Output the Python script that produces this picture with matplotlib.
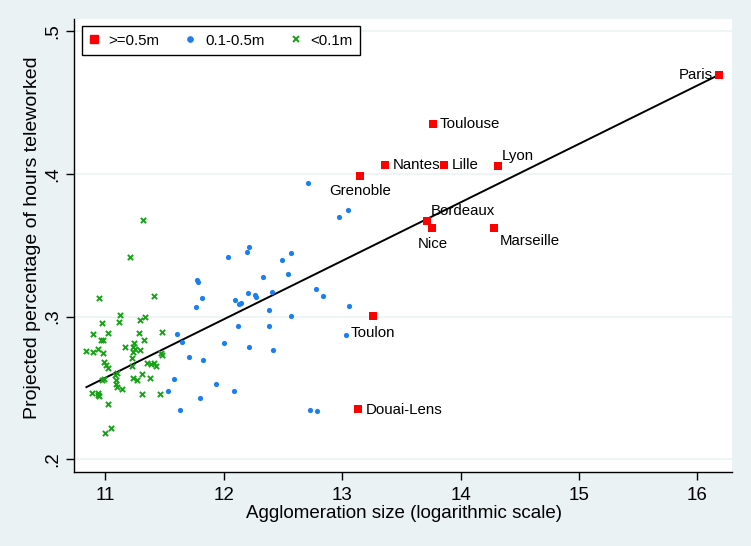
import numpy as np
import matplotlib
matplotlib.use("Agg")
import matplotlib.pyplot as plt
from matplotlib.lines import Line2D

plt.rcParams['font.family'] = ['Liberation Sans', 'DejaVu Sans']

# ---- data: large agglomerations (>=0.5m) ----
big_names = ["Paris", "Toulouse", "Nantes", "Lille", "Lyon", "Grenoble",
             "Bordeaux", "Nice", "Marseille", "Toulon", "Douai-Lens"]
big_x = [16.185, 13.767, 13.364, 13.862, 14.313, 13.150,
         13.716, 13.761, 14.280, 13.258, 13.136]
big_y = [0.4694, 0.4349, 0.4059, 0.4059, 0.4054, 0.3987,
         0.3667, 0.3620, 0.3622, 0.3006, 0.2352]

# ---- data: 0.1-0.5m ----
mid_x = [12.714, 13.046, 12.973, 12.213, 12.198, 12.035, 12.565, 12.494,
         11.776, 11.785, 12.331, 12.540, 11.818, 12.097, 12.143, 12.131,
         12.204, 12.261, 12.274, 12.405, 12.776, 12.835, 13.057, 11.768,
         12.382, 12.565, 12.122, 12.379, 11.605, 11.649, 12.004, 12.215,
         12.418, 13.032, 11.704, 11.824, 11.582, 11.937, 11.526, 12.089,
         11.802, 11.633, 12.728, 12.785]
mid_y = [0.3933, 0.3746, 0.3699, 0.3489, 0.3452, 0.3417, 0.3443, 0.3394,
         0.3256, 0.3242, 0.3279, 0.3298, 0.3130, 0.3116, 0.3097, 0.3086,
         0.3167, 0.3153, 0.3135, 0.3172, 0.3193, 0.3146, 0.3076, 0.3069,
         0.3044, 0.3004, 0.2936, 0.2934, 0.2880, 0.2820, 0.2817, 0.2785,
         0.2768, 0.2869, 0.2715, 0.2698, 0.2560, 0.2530, 0.2476, 0.2481,
         0.2427, 0.2345, 0.2347, 0.2338]

# ---- data: <0.1m ----
small_x = [11.317, 11.205, 10.948, 11.410, 11.123, 11.117, 10.974, 11.295,
           11.337, 10.898, 11.019, 11.281, 11.476, 10.960, 10.977, 11.329,
           11.239, 11.168, 11.231, 11.250, 11.292, 10.839, 10.898, 10.940,
           10.982, 11.231, 11.467, 11.478, 11.222, 10.988, 11.005, 11.024,
           11.349, 11.383, 11.410, 11.427, 11.222, 11.095, 11.079, 11.236,
           11.269, 11.312, 11.379, 10.991, 10.971, 11.090, 11.087, 11.095,
           11.140, 10.887, 10.940, 10.948, 10.935, 11.309, 11.461, 11.019,
           11.045, 10.999]
small_y = [0.3674, 0.3419, 0.3132, 0.3144, 0.3009, 0.2960, 0.2955, 0.2974,
           0.2999, 0.2880, 0.2887, 0.2887, 0.2890, 0.2836, 0.2836, 0.2836,
           0.2813, 0.2789, 0.2789, 0.2775, 0.2766, 0.2761, 0.2752, 0.2771,
           0.2743, 0.2754, 0.2747, 0.2728, 0.2707, 0.2682, 0.2658, 0.2637,
           0.2672, 0.2668, 0.2675, 0.2651, 0.2654, 0.2607, 0.2591, 0.2567,
           0.2556, 0.2598, 0.2567, 0.2560, 0.2556, 0.2556, 0.2528, 0.2509,
           0.2495, 0.2467, 0.2462, 0.2443, 0.2450, 0.2460, 0.2460, 0.2385,
           0.2217, 0.2184]

# fitted line parameters (weighted fit)
fit_slope = 0.04094
fit_intercept = -0.1932

legend_labels = [">=0.5m", "0.1-0.5m", "<0.1m"]
x_ticks = [11, 12, 13, 14, 15, 16]
y_ticks = [0.2, 0.3, 0.4, 0.5]
y_tick_labels = [".2", ".3", ".4", ".5"]

# label offsets in pixels (dx, dy, ha, va) – Stata clock positions
label_pos = {
    "Paris": (-6, 0, "right", "center"),
    "Toulouse": (7, 0, "left", "center"),
    "Nantes": (7, 0, "left", "center"),
    "Lille": (7, 0, "left", "center"),
    "Lyon": (4, 10, "left", "center"),
    "Grenoble": (0, -15, "center", "center"),
    "Bordeaux": (4, 10, "left", "center"),
    "Nice": (0, -16, "center", "center"),
    "Marseille": (6, -13, "left", "center"),
    "Toulon": (0, -17, "center", "center"),
    "Douai-Lens": (7, -1, "left", "center"),
}

BG = "#EAF2F3"
RED = "#FF0000"
BLUE = "#1A7FEF"
GREEN = "#16A316"

fig = plt.figure(figsize=(7.51, 5.46), dpi=100, facecolor=BG)
ax = fig.add_axes([74 / 751, 1 - 471.7 / 546, 657.7 / 751, 452.7 / 546])
ax.set_facecolor("white")

# regression line over the data range
all_x = np.array(big_x + mid_x + small_x)
xs = np.array([all_x.min(), all_x.max()])
ax.plot(xs, fit_intercept + fit_slope * xs, color="black", lw=1.4, zorder=2)

ax.scatter(small_x, small_y, marker="x", s=14, color=GREEN, linewidths=1.4, zorder=3)
ax.scatter(mid_x, mid_y, marker="o", s=14, color=BLUE, linewidths=0, zorder=3)
ax.scatter(big_x, big_y, marker="s", s=40, color=RED, linewidths=0, zorder=4)

for name, x, y in zip(big_names, big_x, big_y):
    dx, dy, ha, va = label_pos[name]
    ax.annotate(name, (x, y), xytext=(dx, dy), textcoords="offset pixels",
                ha=ha, va=va, fontsize=10.8, color="black", zorder=5)

ax.set_xlim(10.734, 16.29)
ax.set_ylim(0.1913, 0.5084)
ax.set_xticks(x_ticks)
ax.set_xticklabels([str(t) for t in x_ticks])
ax.set_yticks(y_ticks)
ax.set_yticklabels(y_tick_labels, rotation=90, va="center")

ax.grid(axis="y", color=BG, lw=1.1, zorder=0)
ax.set_axisbelow(True)
for s in ["top", "right"]:
    ax.spines[s].set_visible(False)
for s in ["left", "bottom"]:
    ax.spines[s].set_color("black")
    ax.spines[s].set_linewidth(1.0)
ax.tick_params(axis="both", direction="out", length=6, width=1, color="black",
               labelsize=13.5)
ax.tick_params(axis="x", pad=5)
ax.tick_params(axis="y", pad=3)

ax.set_xlabel("Agglomeration size (logarithmic scale)", fontsize=13.5)
ax.set_ylabel("Projected percentage of hours teleworked", fontsize=14)
ax.xaxis.set_label_coords(0.501, -0.073)
ax.yaxis.set_label_coords(-0.0505, 0.517)

handles = [
    Line2D([], [], marker="s", ls="none", color=RED, markersize=6.3),
    Line2D([], [], marker="o", ls="none", color=BLUE, markersize=3.8),
    Line2D([], [], marker="x", ls="none", color=GREEN, markersize=3.8, markeredgewidth=1.4),
]
leg = ax.legend(handles, legend_labels, ncol=3, loc="upper left",
                bbox_to_anchor=(0.0117, 0.9845), fontsize=10.8,
                frameon=True, fancybox=False, edgecolor="black",
                borderpad=0.5, handlelength=0.6, handletextpad=0.7,
                columnspacing=1.75, borderaxespad=0)
leg.get_frame().set_linewidth(1.0)
leg.get_frame().set_alpha(1)

fig.savefig("out.png", dpi=100, facecolor=BG)
